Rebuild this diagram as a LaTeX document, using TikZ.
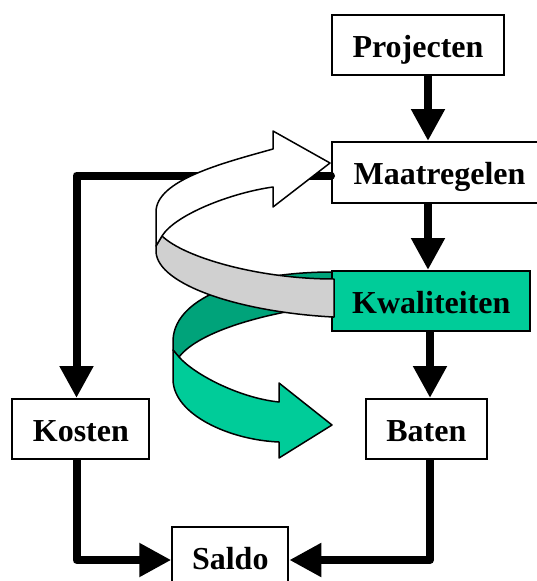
\documentclass[tikz,border=0pt]{standalone}
\usepackage{fontspec}
\setmainfont{Liberation Serif}
\usetikzlibrary{arrows.meta}
\pgfdeclarelayer{back}
\pgfsetlayers{back,main}
\definecolor{lgreen}{RGB}{0,204,153}
\definecolor{dgreen}{RGB}{0,163,122}
\definecolor{lgrey}{RGB}{208,208,208}
\tikzset{
  box/.style={draw, line width=2pt, fill=white, minimum height=60pt, inner sep=0pt,
    text height=24pt, text depth=0pt, font=\bfseries\fontsize{32}{38}\selectfont},
  conn/.style={line width=8pt, line cap=round, line join=round,
    -{Triangle[length=32pt,width=32pt]}},
  ribbon/.style={draw, line width=1.5pt, line join=round}
}
\begin{document}
\begin{tikzpicture}[x=1pt,y=-1pt]
\useasboundingbox (0,0) rectangle (537,581);
% boxes
\node[box, minimum width=172pt] (pro) at (418,45) {Projecten};
\node[box, minimum width=215pt, minimum height=61pt] (maa) at (439.5,172.5) {Maatregelen};
\node[box, minimum width=198pt, fill=lgreen] (kwa) at (431.3,301) {Kwaliteiten};
\node[box, minimum width=137pt] (kos) at (80.9,429) {Kosten};
\node[box, minimum width=121pt] (bat) at (426.3,429) {Baten};
\node[box, minimum width=116pt] (sal) at (230.3,557) {Saldo};
\begin{pgfonlayer}{back}
% dark green back face (behind Kwaliteiten)
\path[ribbon, fill=dgreen] (345,272) -- (332,272) .. controls (250,272) and (175,295) .. (173,340)
  -- (173,350) -- (179,357) .. controls (200,330) and (270,312) .. (330,305) -- (345,305) -- cycle;
% connectors under the boxes
\draw[conn] ([xshift=10pt]pro.south) -- ([xshift=10pt]pro.south |- maa.north);
\draw[conn] ([xshift=-11.5pt]maa.south) -- ([xshift=-11.5pt]maa.south |- kwa.north);
\draw[conn] ([xshift=-1.3pt]kwa.south) -- ([xshift=-1.3pt]kwa.south |- bat.north);
\draw[conn] ([xshift=-4.4pt]kos.south) |- ([yshift=-3pt]sal.west);
\draw[conn] ([xshift=3.7pt]bat.south) |- ([yshift=-3pt]sal.east);
\end{pgfonlayer}
% connector over the box edge
\draw[conn] ([yshift=-3pt]maa.west) -| ([xshift=-4.4pt]kos.north);
% grey front face
\path[ribbon, fill=lgrey] (162,236) .. controls (185,258) and (260,279) .. (334,279) -- (334,317)
  -- (333,317) .. controls (240,312) and (158,285) .. (156,252) -- (156,246) -- cycle;
% white back face with arrow head
\path[ribbon, fill=white] (273,149) .. controls (223,163) and (156,180) .. (156,212) -- (156,246)
  -- (162,236) .. controls (175,215) and (230,193) .. (273,187) -- (273,207) -- (330,163)
  -- (273,131) -- cycle;
% light green front face with arrow head
\path[ribbon, fill=lgreen] (179,357) .. controls (195,375) and (240,398) .. (279,402) -- (279,383)
  -- (332,425) -- (279,458) -- (279,442) .. controls (230,440) and (174,415) .. (173,380)
  -- (173,350) -- cycle;
\end{tikzpicture}
\end{document}
